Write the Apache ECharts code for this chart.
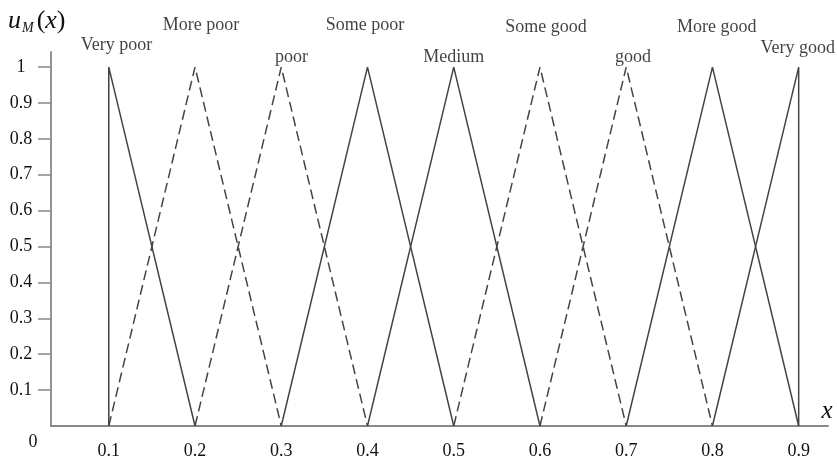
<!DOCTYPE html>
<html><head><meta charset="utf-8">
<script src="https://cdn.jsdelivr.net/npm/echarts@6/dist/echarts.min.js"></script>
<style>html,body{margin:0;padding:0;background:#fff}#c{width:837px;height:465px}</style>
</head><body><div id="c"></div>
<script>
// Membership function triangles: [left foot, peak, right foot]
const setNames = ['Very poor','More poor','poor','Some poor','Medium','Some good','good','More good','Very good'];
const setPoints = [
  [[0.1,0],[0.1,1],[0.2,0]],
  [[0.1,0],[0.2,1],[0.3,0]],
  [[0.2,0],[0.3,1],[0.4,0]],
  [[0.3,0],[0.4,1],[0.5,0]],
  [[0.4,0],[0.5,1],[0.6,0]],
  [[0.5,0],[0.6,1],[0.7,0]],
  [[0.6,0],[0.7,1],[0.8,0]],
  [[0.7,0],[0.8,1],[0.9,0]],
  [[0.8,0],[0.9,1],[0.9,0]]
];
const setDashed = [false,true,true,false,false,true,true,false,false];
// label anchor positions (data coords)
const labelX = [0.109,0.207,0.312,0.397,0.500,0.607,0.708,0.805,0.899];
const labelY = [1.061,1.117,1.028,1.117,1.028,1.111,1.028,1.111,1.053];
const xTicks = [0.1,0.2,0.3,0.4,0.5,0.6,0.7,0.8,0.9];
const yTicks = [0.1,0.2,0.3,0.4,0.5,0.6,0.7,0.8,0.9,1];

const serif = '"Liberation Serif","DejaVu Serif",serif';
const lineColor = '#444';
const axisColor = '#888';
const textColor = '#111';

const series = setPoints.map((pts,i)=>({
  type:'line', name:setNames[i], data:pts, symbol:'none', silent:true,
  lineStyle:{color:lineColor, width:1.5, type: setDashed[i] ? [10,5] : 'solid'},
  z:3
}));
series.push({
  type:'scatter', clip:false, symbolSize:0, silent:true,
  data: labelX.map((x,i)=>[x,labelY[i],setNames[i]]),
  label:{show:true, position:'inside', formatter:p=>p.data[2],
    fontFamily:serif, fontSize:18, color:textColor, align:'center', verticalAlign:'middle'}
});

const chart = echarts.init(document.getElementById('c'));
chart.setOption({
  animation:false,
  grid:{left:51, right:9, top:52, bottom:39, containLabel:false},
  xAxis:{type:'value', min:0.033, max:0.934,
    axisLine:{show:true, lineStyle:{color:axisColor, width:1.8}},
    axisTick:{show:false}, splitLine:{show:false},
    axisLabel:{customValues:xTicks, margin:16, fontFamily:serif, fontSize:18, color:textColor,
      formatter:v=>String(+v.toFixed(1))}
  },
  yAxis:{type:'value', min:0, max:1.042,
    axisLine:{show:true, lineStyle:{color:axisColor, width:1.8}},
    axisTick:{show:true, customValues:yTicks, length:13, lineStyle:{color:axisColor, width:1.5}},
    splitLine:{show:false},
    axisLabel:{customValues:yTicks, margin:30, align:'center', fontFamily:serif, fontSize:18, color:textColor,
      formatter:v=>String(+v.toFixed(1))}
  },
  graphic:[
    {type:'text', left:8, top:8, style:{
      text:'{u|u}{m|M}{p|(}{x|x}{p|)}',
      rich:{
        u:{fontFamily:serif, fontStyle:'italic', fontSize:26, fill:textColor},
        m:{fontFamily:serif, fontStyle:'italic', fontSize:14, fill:textColor, verticalAlign:'bottom', padding:[14,3,0,1]},
        p:{fontFamily:serif, fontSize:26, fill:textColor},
        x:{fontFamily:serif, fontStyle:'italic', fontSize:26, fill:textColor}
      }}},
    {type:'text', x:33, y:442, style:{text:'0', fontFamily:serif, fontSize:18, fill:textColor, align:'center', verticalAlign:'middle'}},
    {type:'text', x:827, y:411, style:{text:'x', fontFamily:serif, fontStyle:'italic', fontSize:25, fill:textColor, align:'center', verticalAlign:'middle'}}
  ],
  series:series
});
</script></body></html>
